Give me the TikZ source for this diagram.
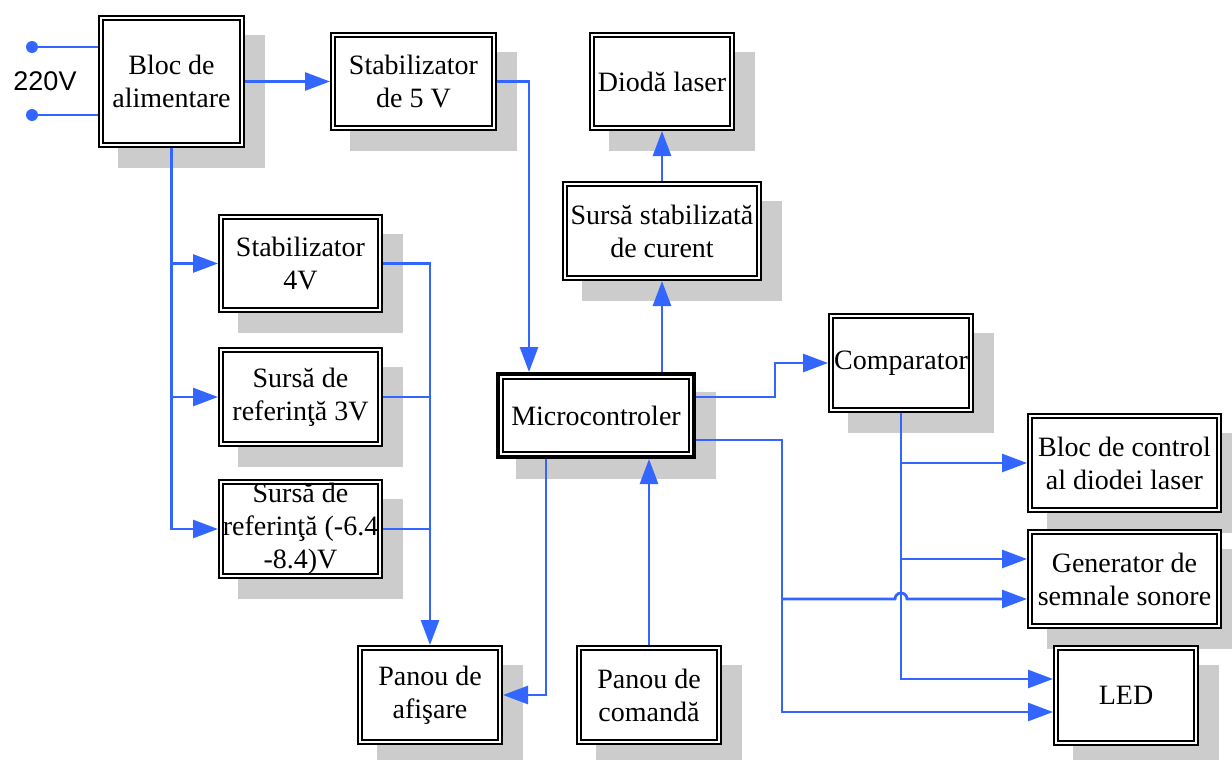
\documentclass[tikz,border=0pt]{standalone}
\usepackage{fontspec}
\setmainfont{Liberation Serif}
\newfontfamily\labelsans{Liberation Sans}
\usetikzlibrary{arrows.meta}
\pgfdeclarelayer{background}
\pgfsetlayers{background,main}
\definecolor{wireblue}{RGB}{51,102,255}
\definecolor{shadowgray}{RGB}{204,204,204}
\tikzset{
  blk/.style={draw=black, fill=white, line width=0.8pt, double=white,
    double distance=1.4pt, outer sep=1.5pt, inner sep=0pt, align=center,
    font=\fontsize{14pt}{16.5pt}\selectfont},
  wire/.style={draw=wireblue, line width=1.4pt},
  arr/.style={wire, -{Triangle[length=12.5pt,width=9pt]}},
}
% \block{name}{cx}{cy}{outer width}{outer height}{text}, sizes in px units
\newcommand\block[6]{%
  \node[blk, minimum width={#4*0.5pt-3pt}, minimum height={#5*0.5pt-3pt}] (#1) at (#2,#3) {#6};
  \begin{pgfonlayer}{background}
    \fill[shadowgray] ([shift={(10pt,-10pt)}]#1.south west) rectangle ([shift={(10pt,-10pt)}]#1.north east);
  \end{pgfonlayer}}
\begin{document}
\begin{tikzpicture}[x=0.5pt,y=-0.5pt]
\useasboundingbox (0,0) rectangle (1232,760);

% power chain
\block{alim}{171.5}{81.5}{147}{133}{Bloc de\\alimentare}
\block{stab5}{413.5}{81.5}{167}{99}{Stabilizator\\de 5 V}
\block{dioda}{662}{81.5}{146}{99}{Diodă laser}
\block{sursacur}{662}{231}{200}{100}{Sursă stabilizată\\de curent}

% supplies on the left
\block{stab4}{300.5}{263.5}{165}{99}{Stabilizator\\4V}
\block{ref3}{300.5}{397}{165}{100}{Sursă de\\referinţă 3V}
\block{ref64}{300.5}{529}{165}{100}{Sursă de\\referinţă (-6.4\\-8.4)V}

% microcontroller with heavy frame
\node[draw=black, fill=white, line width=2pt, outer sep=1pt, inner sep=0pt,
  minimum width=98pt, minimum height=41.5pt,
  font=\fontsize{14pt}{16.5pt}\selectfont] (micro) at (596,415.5) {Microcontroler};
\draw[line width=0.75pt] ([shift={(3.4pt,-3.4pt)}]micro.north west) rectangle ([shift={(-3.4pt,3.4pt)}]micro.south east);
\begin{pgfonlayer}{background}
  \fill[shadowgray] ([shift={(10pt,-10pt)}]micro.south west) rectangle ([shift={(10pt,-10pt)}]micro.north east);
\end{pgfonlayer}

% outputs
\block{comp}{901}{363}{146}{100}{Comparator}
\block{blocctl}{1124.5}{463}{195}{100}{Bloc de control\\al diodei laser}
\block{gen}{1124.5}{579}{195}{100}{Generator de\\semnale sonore}
\block{led}{1126}{695.5}{146}{101}{LED}
\block{afis}{430}{695}{146}{100}{Panou de\\afişare}
\block{comanda}{649}{695}{146}{100}{Panou de\\comandă}

% mains input
\coordinate (in1) at (32,47);
\coordinate (in2) at (32,115);
\draw[wire] (in1) -- (in1 -| alim.west);
\draw[wire] (in2) -- (in2 -| alim.west);
\fill[wireblue] (in1) circle (3pt);
\fill[wireblue] (in2) circle (3pt);
\node[font=\labelsans\fontsize{13.5pt}{16pt}\selectfont] (v220) at (45,81) {220V};

% supply wiring
\draw[arr] (alim.east) -- (stab5.west);
\draw[arr] (stab5.east) -| ([xshift=-33.5pt]micro.north);
\draw[arr] (alim.south) |- (ref64.west);
\draw[arr] (alim.south |- stab4.west) -- (stab4.west);
\draw[arr] (alim.south |- ref3.west) -- (ref3.west);
\draw[arr] (stab4.east) -| (afis.north);
\draw[wire] (ref3.east) -- (ref3.east -| afis.north);
\draw[wire] (ref64.east) -- (ref64.east -| afis.north);

% laser path
\draw[arr] (sursacur.north) -- (dioda.south);
\draw[arr] (sursacur.south |- micro.north) -- (sursacur.south);

% panels
\draw[arr] ([xshift=-25pt]micro.south) |- (afis.east);
\draw[arr] (comanda.north) -- (comanda.north |- micro.south);

% microcontroller outputs
\draw[arr] ([yshift=9.25pt]micro.east) -- ++(79,0) |- (comp.west);
\draw[arr] ([yshift=-12.25pt]micro.east) -- ++(86,0) coordinate (bus) |- ([yshift=-8.25pt]led.west);
\coordinate (g1) at ([yshift=10pt]gen.west);
\coordinate (g2) at ([yshift=-10pt]gen.west);

% comparator outputs
\draw[arr] (comp.south) |- ([yshift=8.25pt]led.west);
\draw[arr] (comp.south |- blocctl.west) -- (blocctl.west);
\draw[arr] (comp.south |- g1) -- (g1);

% crossing with a small jump over the comparator line
\draw[arr] (bus |- g2) -- ([xshift=-3pt]comp.south |- g2) arc[start angle=180, end angle=0, radius=3pt] -- (g2);
\end{tikzpicture}
\end{document}
